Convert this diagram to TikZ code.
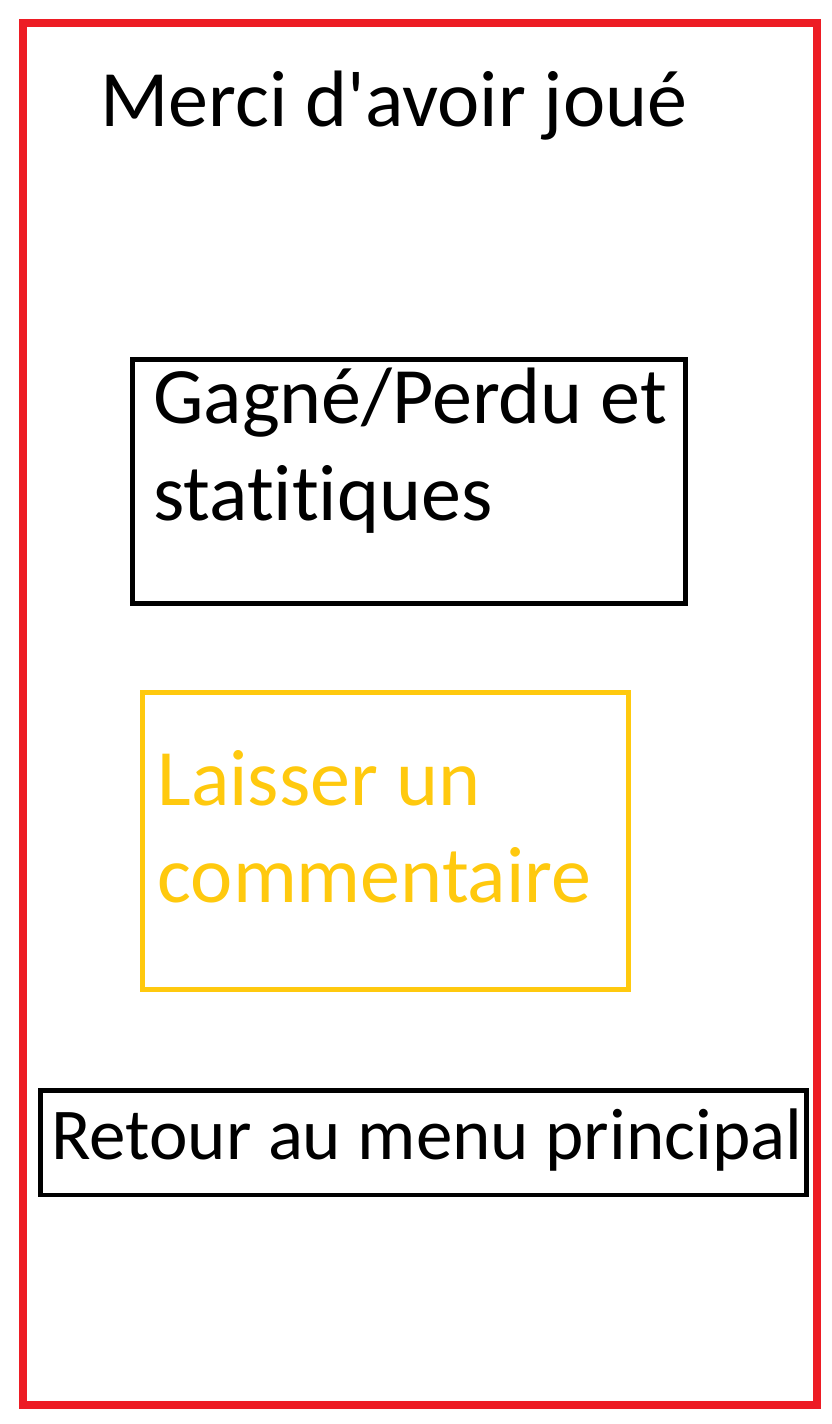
\documentclass[tikz,border=0pt]{standalone}
\usepackage{fontspec}
\newfontfamily\screenfont{Carlito}[Ligatures={NoCommon}]
\usepackage{tikz}

\definecolor{framered}{RGB}{237,28,36}
\definecolor{gold}{RGB}{255,201,14}

\tikzset{
  frame/.style={draw=framered, line width=8pt},
  box/.style={draw=black, line width=4.7pt},
  goldbox/.style={draw=gold, line width=5pt},
  label/.style={anchor=base west, inner sep=0pt, align=left,
    font=\screenfont\fontsize{80}{97}\selectfont},
  buttonlabel/.style={label, font=\screenfont\fontsize{73}{97}\selectfont},
}

\begin{document}
\begin{tikzpicture}[x=1pt, y=-1pt]
  \useasboundingbox (0,0) rectangle (832,1424);
  % outer screen
  \draw[frame] (23,23) rectangle (817,1404.7);
  % title
  \node[label] (title) at (100,126) {Merci d'avoir joué};
  % result box
  \draw[box] (132.5,359.5) rectangle (685.3,603.3);
  \node[label] (result) at (153,520) {Gagné/Perdu et\\statitiques};
  % comment box
  \draw[goldbox] (142.5,692.5) rectangle (628.3,989.5);
  \node[label, text=gold] (comment) at (157.5,902) {Laisser un\\commentaire};
  % back button
  \draw[box] (40.3,1090.5) rectangle (806.7,1195);
  \node[buttonlabel] (back) at (51,1159) {Retour au menu principal};
\end{tikzpicture}
\end{document}
